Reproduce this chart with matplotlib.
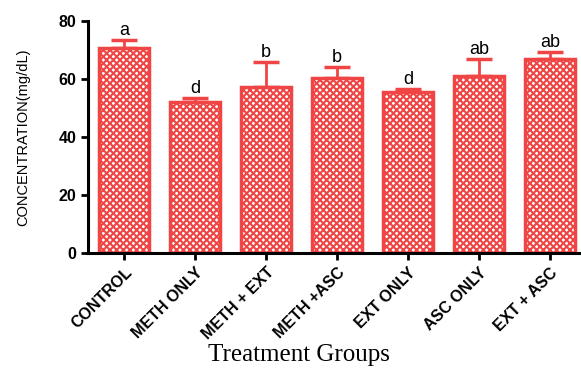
import matplotlib
matplotlib.use("Agg")
import matplotlib.pyplot as plt
import numpy as np

# treatment groups, mean concentration, upper error and significance letters
groups = ["CONTROL", "METH ONLY", "METH + EXT", "METH +ASC", "EXT ONLY", "ASC ONLY", "EXT + ASC"]
means = [70.7, 52.0, 57.2, 60.3, 55.5, 61.0, 66.9]
errors = [2.8, 1.4, 8.7, 3.8, 1.1, 5.9, 2.4]
letters = ["a", "d", "b", "b", "d", "ab", "ab"]

red = "#f04545"
plt.rcParams["hatch.color"] = red
plt.rcParams["hatch.linewidth"] = 1.5

fig = plt.figure(figsize=(5.81, 3.68), dpi=100)
ax = fig.add_axes([0.1515, 0.3125, 0.8465, 0.6305])

x = np.arange(len(groups))
ax.bar(x, means, width=0.7, facecolor="white", edgecolor=red, linewidth=2.5, hatch="xxxxx", zorder=2)
ax.errorbar(x, means, yerr=[np.zeros(len(x)), errors], fmt="none", ecolor=red,
            elinewidth=2, capsize=9.5, capthick=2.5, zorder=1)

for xi, m, e, lab in zip(x, means, errors, letters):
    ax.text(xi, m + e + 0.4, lab, ha="center", va="bottom", fontsize=13,
            family="Liberation Sans")

ax.set_xlim(-0.51, 6.42)
ax.set_ylim(0, 80)
ax.set_yticks([0, 20, 40, 60, 80])
ax.set_xticks(x)
ax.set_xticklabels(groups, rotation=45, ha="right", rotation_mode="anchor",
                   fontsize=11.5, fontweight="bold", family="Liberation Sans")
for t in ax.get_yticklabels():
    t.set_fontweight("bold")
    t.set_family("Liberation Sans")
    t.set_fontsize(11.5)

for s in ["top", "right"]:
    ax.spines[s].set_visible(False)
for s in ["left", "bottom"]:
    ax.spines[s].set_linewidth(2.2)
ax.tick_params(axis="both", width=2, length=5)

ax.set_ylabel("CONCENTRATION(mg/dL)", fontsize=10.5, family="Liberation Sans", labelpad=20)
fig.text(299 / 581, 1 - 355 / 368, "Treatment Groups", ha="center", va="center",
         fontsize=18, family="Liberation Serif")

fig.savefig("out.png", dpi=100)
